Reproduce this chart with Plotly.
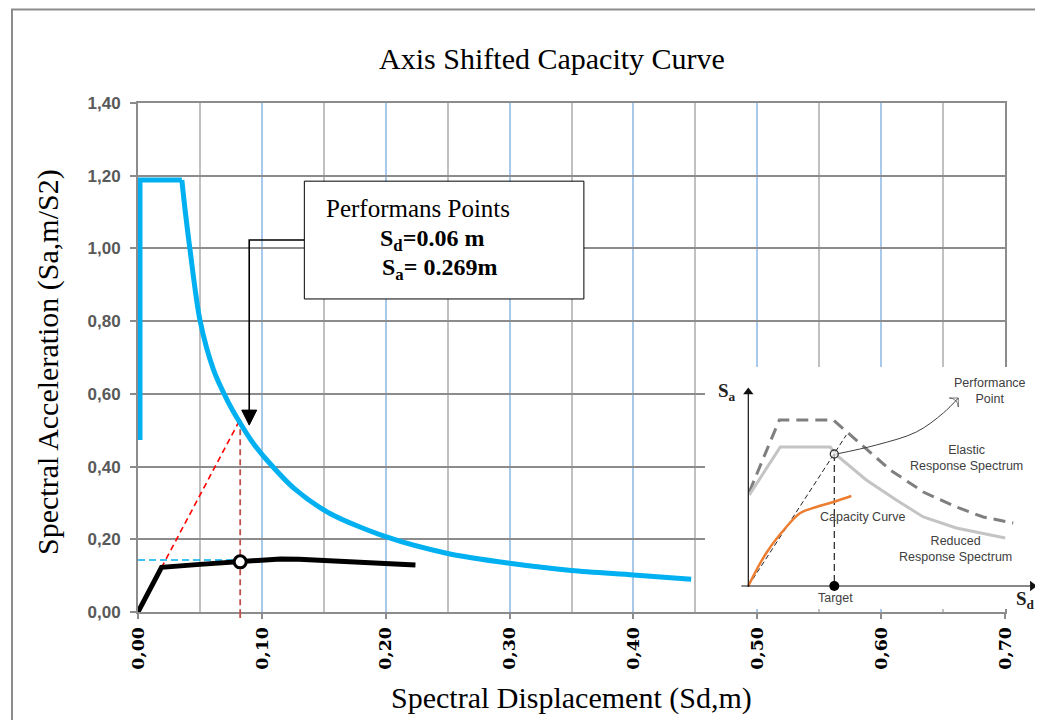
import plotly.graph_objects as go

# ---------------- main chart data ----------------
# Demand (ADRS) spectrum, blue: rising edge + plateau, then descending branch
blue_top_sd = [0.0016, 0.0016, 0.0354]
blue_top_sa = [0.473, 1.188, 1.188]
blue_sd = [0.0354, 0.038, 0.042, 0.050, 0.061, 0.072, 0.081, 0.093,
           0.104, 0.126, 0.155, 0.200, 0.250, 0.300, 0.350, 0.400, 0.4466]
blue_sa = [1.188, 1.106, 0.996, 0.803, 0.666, 0.583, 0.528, 0.464,
           0.418, 0.340, 0.271, 0.207, 0.161, 0.134, 0.114, 0.102, 0.090]

# Capacity curve, black
black_sd = [0.0, 0.019, 0.050, 0.0825, 0.100, 0.115, 0.130, 0.155, 0.224]
black_sa = [0.0, 0.123, 0.131, 0.138, 0.143, 0.146, 0.145, 0.140, 0.129]

# Performance point and construction lines
pp_sd = 0.0825
pp_sa = 0.138
elastic_sa = 0.53          # intersection of initial stiffness line with spectrum
pp_h_sa = 0.143            # cyan dashed horizontal level

# Callout
box_sd = [0.1343, 0.360]
box_sa = [0.861, 1.185]
arrow_sd = 0.0898
arrow_tip_sa = 0.514
arrow_elbow_sa = 1.023

x_ticks = [0.0, 0.1, 0.2, 0.3, 0.4, 0.5, 0.6, 0.7]
y_ticks = [0.0, 0.2, 0.4, 0.6, 0.8, 1.0, 1.2, 1.4]

# ---------------- inset (schematic) data, inset units ----------------
ins_elastic_x = [1, 31, 85, 108, 142, 175, 208, 235, 265]
ins_elastic_y = [94, 166, 166, 146, 116, 94, 79, 69, 63]
ins_reduced_x = [1, 32, 82, 88, 118, 148, 175, 208, 257]
ins_reduced_y = [91, 139, 139, 131, 106, 86, 69, 58, 48]
ins_capacity_x = [0, 18, 38, 52, 68, 85, 103]
ins_capacity_y = [0, 33, 59, 73, 79, 84, 90]
ins_secant_x = [0, 98]
ins_secant_y = [0, 151]
ins_pp = (86, 132)
ins_curve_x = [88, 128, 168, 195, 210]
ins_curve_y = [132, 141, 154, 173, 188]
ins_xrange = [-43.3, 291.7]
ins_yrange = [-23, 219]

# ---------------- geometry helpers ----------------
# the page adds an 8px body margin, so the figure is placed at (8, 8)
OFF = 8
W, H = 1043 - OFF, 720 - OFF
PLOT_L, PLOT_R, PLOT_T, PLOT_B = 138, 1040, 103, 612   # page pixels
ML = PLOT_L - OFF
MR = W - (PLOT_R - OFF)
MT = PLOT_T - OFF
MB = H - (PLOT_B - OFF)
PW = PLOT_R - PLOT_L
PH = PLOT_B - PLOT_T


def px_x(p):
    return (p - PLOT_L) / PW


def px_y(p):
    return (PLOT_B - p) / PH


GRID_GRAY = "#8c8c8c"
BLUE = "#00b0f0"

fig = go.Figure()

# construction lines (below curves)
fig.add_trace(go.Scatter(x=[0, pp_sd], y=[0, elastic_sa], mode="lines",
                         line=dict(color="#ff0000", width=1.6, dash="6px,4px"),
                         hoverinfo="skip", showlegend=False))
fig.add_trace(go.Scatter(x=[pp_sd, pp_sd], y=[elastic_sa, 0], mode="lines",
                         line=dict(color="#c0504d", width=1.8, dash="6px,4px"),
                         hoverinfo="skip", showlegend=False))
fig.add_trace(go.Scatter(x=[0, pp_sd - 0.005], y=[pp_h_sa, pp_h_sa], mode="lines",
                         line=dict(color=BLUE, width=1.6, dash="7px,4px"),
                         hoverinfo="skip", showlegend=False))

# spectrum
fig.add_trace(go.Scatter(x=blue_top_sd, y=blue_top_sa, mode="lines",
                         line=dict(color=BLUE, width=5),
                         hoverinfo="skip", showlegend=False))
fig.add_trace(go.Scatter(x=blue_sd, y=blue_sa, mode="lines",
                         line=dict(color=BLUE, width=5, shape="spline", smoothing=0.8),
                         hoverinfo="skip", showlegend=False))
# capacity
fig.add_trace(go.Scatter(x=black_sd, y=black_sa, mode="lines",
                         line=dict(color="black", width=5),
                         hoverinfo="skip", showlegend=False))
fig.add_trace(go.Scatter(x=[pp_sd], y=[pp_sa], mode="markers",
                         marker=dict(symbol="circle", size=12, color="white",
                                     line=dict(color="black", width=3)),
                         hoverinfo="skip", showlegend=False))

# ---------------- inset traces ----------------
ik = dict(xaxis="x2", yaxis="y2", hoverinfo="skip", showlegend=False)
fig.add_trace(go.Scatter(x=[ins_xrange[0], ins_xrange[1], ins_xrange[1], ins_xrange[0], ins_xrange[0]],
                         y=[ins_yrange[0], ins_yrange[0], ins_yrange[1], ins_yrange[1], ins_yrange[0]],
                         mode="lines", fill="toself", fillcolor="white",
                         line=dict(width=0, color="white"), **ik))
fig.add_trace(go.Scatter(x=ins_elastic_x, y=ins_elastic_y, mode="lines",
                         line=dict(color="#7f7f7f", width=3, dash="12px,7px"), **ik))
fig.add_trace(go.Scatter(x=ins_reduced_x, y=ins_reduced_y, mode="lines",
                         line=dict(color="#c4c4c4", width=3), **ik))
fig.add_trace(go.Scatter(x=ins_secant_x, y=ins_secant_y, mode="lines",
                         line=dict(color="#222222", width=1, dash="5px,3px"), **ik))
fig.add_trace(go.Scatter(x=[ins_pp[0], ins_pp[0]], y=[ins_pp[1], 0], mode="lines",
                         line=dict(color="#222222", width=1.2, dash="7px,4px"), **ik))
fig.add_trace(go.Scatter(x=ins_capacity_x, y=ins_capacity_y, mode="lines",
                         line=dict(color="#ed7d31", width=2.5, shape="spline"), **ik))
# inset axes
fig.add_trace(go.Scatter(x=[0, 0], y=[-1, 192], mode="lines",
                         line=dict(color="#111111", width=1.2), **ik))
fig.add_trace(go.Scatter(x=[0], y=[194], mode="markers",
                         marker=dict(symbol="triangle-up", size=9, color="#111111"), **ik))
fig.add_trace(go.Scatter(x=[-7, 282], y=[0, 0], mode="lines",
                         line=dict(color="#111111", width=1.2), **ik))
fig.add_trace(go.Scatter(x=[284], y=[0], mode="markers",
                         marker=dict(symbol="triangle-right", size=9, color="#111111"), **ik))
# curved arrow to "Performance Point"
fig.add_trace(go.Scatter(x=ins_curve_x, y=ins_curve_y, mode="lines+markers",
                         line=dict(color="#404040", width=1, shape="spline"),
                         marker=dict(symbol="arrow-wide-open", angleref="previous",
                                     size=[0, 0, 0, 0, 9], color="#404040",
                                     line=dict(color="#404040", width=1)), **ik))
fig.add_trace(go.Scatter(x=[ins_pp[0]], y=[ins_pp[1]], mode="markers",
                         marker=dict(symbol="circle", size=8, color="rgba(255,255,255,0.6)",
                                     line=dict(color="#333333", width=1.3)), **ik))
fig.add_trace(go.Scatter(x=[ins_pp[0]], y=[0], mode="markers",
                         marker=dict(symbol="circle", size=10, color="black"), **ik))

# ---------------- shapes ----------------
fx0, fy_top, fy_bot, fx_right = px_x(12), px_y(OFF + 1.5), px_y(760), px_x(1045)
shapes = [
    # outer frame: left and top edges only
    dict(type="path", xref="paper", yref="paper",
         path=f"M {fx0},{fy_bot} L {fx0},{fy_top} L {fx_right},{fy_top}",
         line=dict(color=GRID_GRAY, width=2), layer="above"),
    # dashed vertical extension below the axis
    dict(type="line", xref="x", yref="paper", x0=pp_sd, x1=pp_sd,
         y0=0, y1=px_y(618), line=dict(color="#c0504d", width=1.8, dash="dash")),
    # callout box
    dict(type="rect", xref="x", yref="y", x0=box_sd[0], x1=box_sd[1],
         y0=box_sa[0], y1=box_sa[1], fillcolor="white",
         line=dict(color="black", width=1), layer="above"),
    # leader line
    dict(type="path", xref="x", yref="y",
         path=f"M {arrow_sd},{arrow_tip_sa + 0.04} L {arrow_sd},{arrow_elbow_sa} L {box_sd[0]},{arrow_elbow_sa}",
         line=dict(color="black", width=1.6), layer="above"),
    # arrowhead
    dict(type="path", xref="x", yref="y", xsizemode="pixel", ysizemode="pixel",
         xanchor=arrow_sd, yanchor=arrow_tip_sa,
         path="M 0,0 L -7.5,15 L 7.5,15 Z", fillcolor="black",
         line=dict(color="black", width=1), layer="above"),
]

serif = "Liberation Serif"
annotations = [
    dict(text="Spectral Displacement (Sd,m)", xref="paper", yref="paper",
         x=px_x(571), y=px_y(698), xanchor="center", yanchor="middle",
         showarrow=False, font=dict(family=serif, size=30, color="black")),
    dict(text="Spectral Acceleration (Sa,m/S2)", xref="paper", yref="paper",
         x=px_x(48), y=px_y(362), xanchor="center", yanchor="middle", textangle=-90,
         showarrow=False, font=dict(family=serif, size=30, color="black")),
    dict(text="Performans Points", xref="x", yref="y", x=0.150, y=1.111,
         xanchor="left", yanchor="middle", showarrow=False,
         font=dict(family=serif, size=25, color="black")),
    dict(text="<b>S<sub>d</sub>=0.06 m</b>", xref="x", yref="y", x=0.1934, y=1.022,
         xanchor="left", yanchor="middle", showarrow=False,
         font=dict(family=serif, size=24, color="black")),
    dict(text="<b>S<sub>a</sub>= 0.269m</b>", xref="x", yref="y", x=0.195, y=0.943,
         xanchor="left", yanchor="middle", showarrow=False,
         font=dict(family=serif, size=24, color="black")),
]

sans = "Liberation Sans"
ins_txt = [
    ("Performance<br>Point", 242, 195),
    ("Elastic<br>Response Spectrum", 218, 128),
    ("Capacity Curve", 114, 69),
    ("Reduced<br>Response Spectrum", 207, 37),
    ("Target", 87, -12),
]
for t, x, y in ins_txt:
    annotations.append(dict(text=t, xref="x2", yref="y2", x=x, y=y,
                            xanchor="center", yanchor="middle", showarrow=False,
                            font=dict(family=sans, size=12.5, color="#404040")))
annotations.append(dict(text="<b>S<sub>a</sub></b>", xref="x2", yref="y2", x=-21, y=194,
                        xanchor="center", yanchor="middle", showarrow=False,
                        font=dict(family=serif, size=19, color="#222222")))
annotations.append(dict(text="<b>S<sub>d</sub></b>", xref="x2", yref="y2", x=277, y=-14,
                        xanchor="center", yanchor="middle", showarrow=False,
                        font=dict(family=serif, size=19, color="#222222")))

fig.update_layout(
    width=W, height=H,
    margin=dict(l=ML, r=MR, t=MT, b=MB, autoexpand=False),
    paper_bgcolor="white", plot_bgcolor="white",
    separators=",.",
    title=dict(text="Axis Shifted Capacity Curve", x=px_x(552), xref="paper",
               xanchor="center", y=1 - (58 - OFF) / H, yanchor="middle",
               font=dict(family=serif, size=30, color="black")),
    xaxis=dict(range=[0, 0.70], domain=[0, (1005 - PLOT_L) / PW],
               tickvals=x_ticks, tickformat=".2f", tickangle=-90,
               tickfont=dict(family="DejaVu Serif", size=17.5, color="black", weight="bold"),
               showgrid=True, gridcolor="#a9c9ea", gridwidth=1.5,
               minor=dict(dtick=0.05, tick0=0, showgrid=True, gridcolor="#c0c0c0", gridwidth=2),
               showline=True, linecolor=GRID_GRAY, linewidth=2, mirror=True,
               ticks="outside", ticklen=5, tickcolor=GRID_GRAY, tickwidth=1.5,
               zeroline=False, ticklabelstandoff=1),
    yaxis=dict(range=[0, 1.40], tickvals=y_ticks, tickformat=".2f",
               tickfont=dict(family=sans, size=17, color="#595959", weight="bold"),
               showgrid=True, gridcolor=GRID_GRAY, gridwidth=2,
               showline=True, linecolor=GRID_GRAY, linewidth=2, mirror=True,
               ticks="outside", ticklen=6, tickcolor=GRID_GRAY, tickwidth=2,
               zeroline=False, ticklabelstandoff=6),
    xaxis2=dict(domain=[px_x(705), 1.0], range=ins_xrange, anchor="y2", visible=False),
    yaxis2=dict(domain=[px_y(609), px_y(367)], range=ins_yrange, anchor="x2", visible=False),
    shapes=shapes,
    annotations=annotations,
    showlegend=False,
)

fig.write_html("out.html")
